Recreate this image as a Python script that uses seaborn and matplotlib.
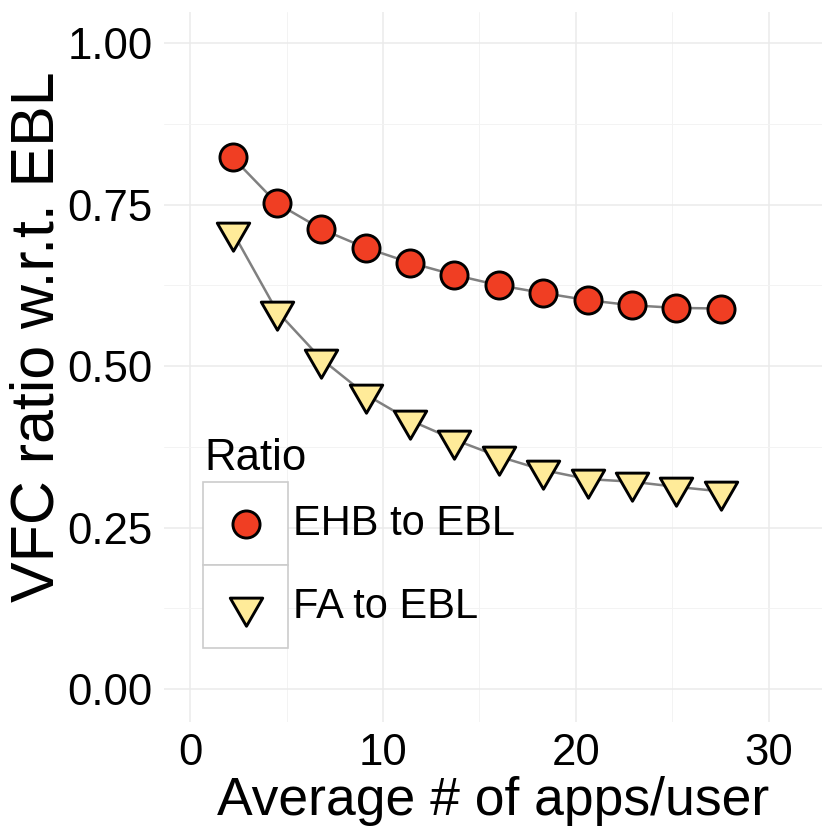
import numpy as np
import pandas as pd
import matplotlib
matplotlib.use("Agg")
import matplotlib.pyplot as plt
from matplotlib.patches import Rectangle
from matplotlib.path import Path
import seaborn as sns

# values
apps = [2.2, 4.5, 6.8, 9.1, 11.4, 13.7, 16.0, 18.3, 20.6, 22.9, 25.2, 27.5]
ehb_ratio = [0.823, 0.752, 0.712, 0.683, 0.660, 0.641, 0.625, 0.613, 0.602, 0.594, 0.590, 0.589]
fa_ratio = [0.708, 0.585, 0.511, 0.456, 0.416, 0.386, 0.360, 0.339, 0.325, 0.321, 0.313, 0.306]
series = ["EHB to EBL", "FA to EBL"]
fills = ["#F03E23", "#FFEB99"]
x_ticks = [0, 10, 20, 30]
y_ticks = [0.00, 0.25, 0.50, 0.75, 1.00]

df = pd.DataFrame({
    "apps": apps * 2,
    "ratio": ehb_ratio + fa_ratio,
    "Ratio": [series[0]] * len(apps) + [series[1]] * len(apps),
})

sns.set_style("white")
plt.rcParams["font.family"] = ["Liberation Sans", "DejaVu Sans"]
plt.rcParams["text.color"] = "black"
plt.rcParams["axes.labelcolor"] = "black"

# down-pointing triangle centred on its centroid (like R pch 25)
tri = Path([(-0.866, 0.5), (0.866, 0.5), (0, -1), (-0.866, 0.5)],
           [Path.MOVETO, Path.LINETO, Path.LINETO, Path.CLOSEPOLY])
markers = {series[0]: "o", series[1]: tri}
sizes = {series[0]: 19.5 ** 2, series[1]: 27 ** 2}

W = H = 830
fig = plt.figure(figsize=(8.3, 8.3), dpi=100)
L, R, T, B = 164, 822, 12, 722
ax = fig.add_axes([L / W, 1 - B / H, (R - L) / W, (B - T) / H])

sns.lineplot(data=df, x="apps", y="ratio", units="Ratio", estimator=None,
             color="#808080", linewidth=1.8, ax=ax, legend=False, zorder=2)
for name, fc in zip(series, fills):
    sub = df[df["Ratio"] == name]
    sns.scatterplot(data=sub, x="apps", y="ratio", marker=markers[name],
                    s=sizes[name], color=fc, edgecolor="black", linewidth=2.1,
                    ax=ax, legend=False, zorder=3)

ax.set_xlim(-1.35, 32.75)
ax.set_ylim(-0.051, 1.048)
ax.set_xticks(x_ticks)
ax.set_yticks(y_ticks)
ax.set_yticklabels([f"{v:.2f}" for v in y_ticks])
ax.set_xticks([5, 15, 25], minor=True)
ax.set_yticks([0.125, 0.375, 0.625, 0.875], minor=True)
ax.grid(True, which="major", color="#EBEBEB", linewidth=1.1)
ax.grid(True, which="minor", color="#F3F3F3", linewidth=0.7)
ax.set_axisbelow(True)
for s in ax.spines.values():
    s.set_visible(False)
ax.tick_params(which="major", length=5, width=0.8, color="#333333",
               labelsize=31.5, labelcolor="black", pad=3)
ax.tick_params(which="minor", length=0)

ax.set_xlabel("Average # of apps/user", fontsize=38.5, labelpad=1)
ax.set_ylabel("VFC ratio w.r.t. EBL", fontsize=43.8)
ax.yaxis.set_label_coords(-0.148, 0.542)

# legend drawn in the ggplot boxed-key style
def fx(px):
    return (px - L) / (R - L)

def fy(py):
    return (B - py) / (B - T)

ax.text(fx(204), fy(458), "Ratio", transform=ax.transAxes, fontsize=31.5,
        ha="left", va="center")
for i, (name, fc) in enumerate(zip(series, fills)):
    top = 482 + i * 83
    ax.add_patch(Rectangle((fx(203), fy(top + 83)), fx(288) - fx(203),
                           fy(top) - fy(top + 83), transform=ax.transAxes,
                           facecolor="white", edgecolor="#CCCCCC",
                           linewidth=1.2, zorder=4, clip_on=False))
    ax.scatter([fx(245.5)], [fy(top + 42)], transform=ax.transAxes,
               marker=markers[name], s=sizes[name], color=fc,
               edgecolor="black", linewidth=2.1, zorder=5, clip_on=False)
    ax.text(fx(293), fy(top + 42), name, transform=ax.transAxes,
            fontsize=30, ha="left", va="center", zorder=5)

fig.savefig("out.png", dpi=100)
